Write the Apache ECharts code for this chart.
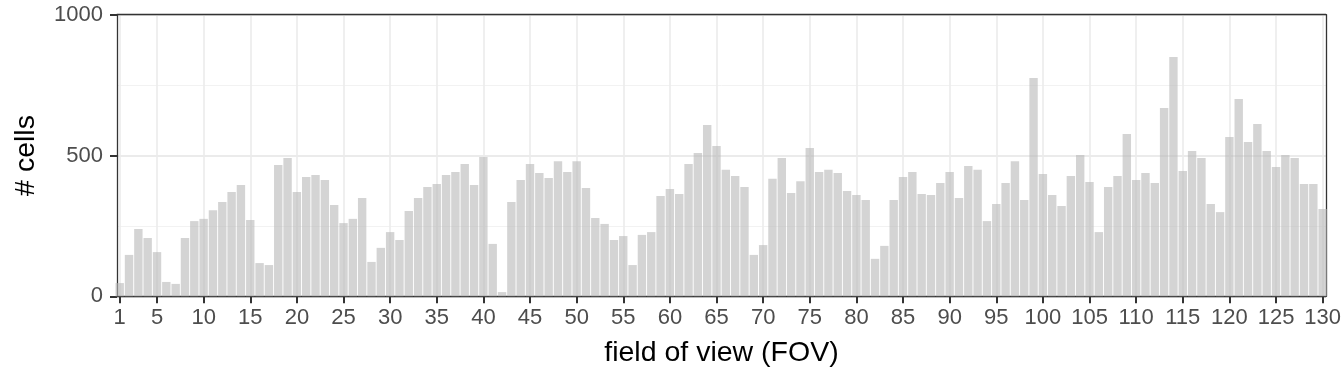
<!DOCTYPE html>
<html>
<head>
<meta charset="utf-8">
<script src="https://cdn.jsdelivr.net/npm/echarts@6/dist/echarts.min.js"></script>
<style>
  html, body { margin: 0; padding: 0; background: #ffffff; }
  #chart { width: 1344px; height: 384px; }
</style>
</head>
<body>
<div id="chart"></div>
<script>
// field of view index 1..130
const fovIds = [];
for (let i = 1; i <= 130; i++) fovIds.push(i);

// number of cells per FOV
const cellCounts = [
  47, 147, 239, 207, 157, 51, 44, 207, 267, 275,
  306, 335, 370, 395, 271, 118, 111, 466, 491, 370,
  424, 431, 413, 324, 260, 275, 349, 122, 172, 228,
  200, 303, 349, 388, 399, 431, 441, 470, 395, 495,
  186, 15, 335, 413, 470, 438, 420, 480, 441, 480,
  385, 278, 257, 200, 214, 111, 218, 228, 356, 381,
  363, 470, 509, 608, 534, 449, 427, 388, 147, 182,
  417, 491, 367, 409, 527, 441, 449, 438, 374, 360,
  342, 133, 179, 342, 424, 441, 363, 360, 402, 441,
  349, 463, 449, 267, 328, 402, 480, 342, 775, 434,
  360, 321, 427, 502, 406, 228, 388, 427, 576, 413,
  438, 402, 669, 850, 445, 516, 491, 328, 299, 566,
  701, 548, 612, 516, 459, 502, 491, 399, 399, 310
];

// x tick labels
const xTicks = [1, 5, 10, 15, 20, 25, 30, 35, 40, 45, 50, 55, 60, 65, 70, 75, 80, 85, 90, 95, 100, 105, 110, 115, 120, 125, 130];
// y tick labels
const yTicks = [0, 500, 1000];

const xTitle = 'field of view (FOV)';
const yTitle = '# cells';

const font = '"Liberation Sans", Arial, Helvetica, sans-serif';
const border = { color: '#333333', width: 1.3 };

const chart = echarts.init(document.getElementById('chart'), null, { renderer: 'canvas' });

chart.setOption({
  animation: false,
  backgroundColor: '#ffffff',
  grid: {
    left: 117, top: 14.7, width: 1211.5, height: 281.6,
    show: false, containLabel: false
  },
  xAxis: [{
    type: 'value',
    min: 0.71,
    max: 130.35,
    name: xTitle,
    nameLocation: 'middle',
    nameGap: 42,
    nameTextStyle: { color: '#000000', fontSize: 28.5, fontFamily: font },
    axisLine: { show: true, onZero: false, lineStyle: border },
    axisTick: {
      show: true, length: 7, inside: false, customValues: xTicks,
      lineStyle: { color: '#333333', width: 2 }
    },
    axisLabel: {
      show: true, customValues: xTicks, margin: 11,
      color: '#4d4d4d', fontSize: 22, fontFamily: font,
      formatter: v => String(v)
    },
    splitLine: { show: true, lineStyle: { color: '#ebebeb', width: 1.6 } },
    minorSplitLine: { show: false }
  }, {
    type: 'value', position: 'top',
    min: 0.71, max: 130.35,
    axisLine: { show: true, onZero: false, lineStyle: border },
    axisTick: { show: false }, axisLabel: { show: false }, splitLine: { show: false }
  }],
  yAxis: [{
    type: 'value',
    min: 0,
    max: 1000,
    interval: 500,
    name: yTitle,
    nameLocation: 'middle',
    nameRotate: 90,
    nameGap: 76,
    nameTextStyle: { color: '#000000', fontSize: 28.5, fontFamily: font },
    axisLine: { show: true, onZero: false, lineStyle: border },
    axisTick: { show: true, length: 7, lineStyle: { color: '#333333', width: 2 } },
    axisLabel: {
      show: true, margin: 14,
      color: '#4d4d4d', fontSize: 22, fontFamily: font,
      customValues: yTicks,
      formatter: v => String(v)
    },
    splitLine: { show: true, lineStyle: { color: '#ebebeb', width: 1.8 } },
    minorTick: { show: false, splitNumber: 2 },
    minorSplitLine: { show: true, lineStyle: { color: '#f0f0f0', width: 0.9 } }
  }, {
    type: 'value', position: 'right',
    min: 0, max: 1000,
    axisLine: { show: true, onZero: false, lineStyle: border },
    axisTick: { show: false }, axisLabel: { show: false }, splitLine: { show: false }
  }],
  series: [{
    type: 'bar',
    xAxisIndex: 0, yAxisIndex: 0,
    data: fovIds.map((id, i) => [id, cellCounts[i]]),
    barWidth: 8.4,
    clip: true,
    itemStyle: { color: 'rgba(185,185,185,0.62)' },
    emphasis: { disabled: true }
  }]
});
</script>
</body>
</html>
